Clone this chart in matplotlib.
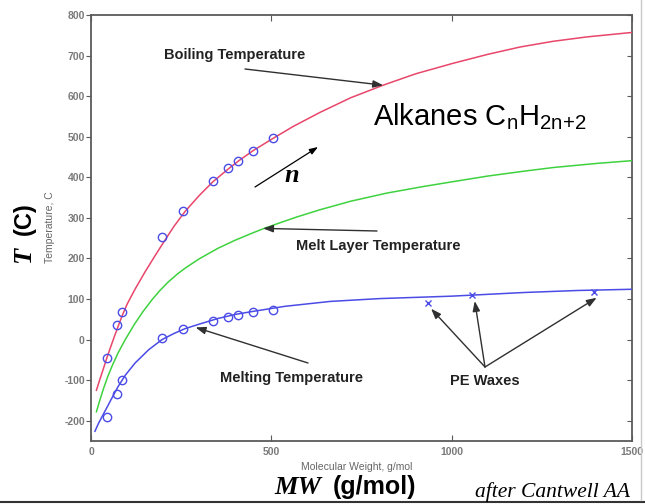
import matplotlib
matplotlib.use("Agg")
import matplotlib.pyplot as plt
from matplotlib.lines import Line2D

plt.rcParams['axes.unicode_minus'] = False

# ---- data ----
boil_curve_mw = [15, 25, 35, 44, 55, 65, 75, 86, 100, 122, 150, 175, 205, 230, 261, 300, 338, 380, 410, 450, 505, 560, 635, 720, 810, 900, 1004, 1100, 1189, 1280, 1375, 1500]
boil_curve_T = [-125, -97, -70, -45, -17, 8, 32, 58, 87, 124, 167, 203, 245, 279, 316, 355, 389, 420, 441, 466, 496, 525, 560, 596, 627, 655, 681, 703, 721, 735, 746, 757]

layer_curve_mw = [15, 25, 35, 47, 60, 75, 95, 122, 145, 169, 190, 213, 240, 261, 300, 352, 400, 446, 477, 518, 570, 635, 720, 820, 920, 1009, 1100, 1200, 1281, 1400, 1500]
layer_curve_T = [-178, -148, -120, -90, -62, -33, 0, 40, 70, 98, 120, 141, 162, 176, 199, 225, 245, 262, 273, 286, 302, 320, 341, 361, 377, 390, 403, 415, 424, 434, 441]

melt_curve_mw = [11, 20, 30, 39, 55, 75, 95, 122, 160, 197, 230, 261, 300, 352, 400, 446, 538, 663, 800, 1000, 1200, 1350, 1500]
melt_curve_T = [-226, -208, -191, -176, -149, -116, -88, -58, -25, 0, 15, 27, 38, 52, 62, 69, 82, 94, 101, 107, 116, 121, 124]

alk_mw = [44, 72, 86, 197, 254, 339, 380, 408, 450, 505]
alk_boil_T = [-45, 35, 67, 253, 317, 391, 422, 441, 466, 496]
alk_melt_T = [-191, -134, -99, 3, 25, 47, 55, 60, 67, 72]

wax_mw = [935, 1056, 1394]
wax_T = [90, 109, 117]

x_ticks = [0, 500, 1000, 1500]
y_ticks = [-200, -100, 0, 100, 200, 300, 400, 500, 600, 700, 800]

SANS = ['Liberation Sans', 'DejaVu Sans']
SERIF = ['Liberation Serif', 'DejaVu Serif']

W, H = 645, 504
fig = plt.figure(figsize=(W / 100, H / 100), dpi=100)
fig.patch.set_facecolor('white')
ax = fig.add_axes([91 / W, 1 - 441 / H, (632 - 91) / W, (441 - 15) / H])

red = '#e8466a'
green = '#3fd23f'
blue = '#4b4be6'

ax.plot(boil_curve_mw, boil_curve_T, color=red, lw=1.1, zorder=3)
ax.plot(layer_curve_mw, layer_curve_T, color=green, lw=1.1, zorder=3)
ax.plot(melt_curve_mw, melt_curve_T, color=blue, lw=1.1, zorder=3)

ax.plot(alk_mw, alk_boil_T, 'o', ms=6, mfc='none', mec=blue, mew=1.0, zorder=4)
ax.plot(alk_mw, alk_melt_T, 'o', ms=6, mfc='none', mec=blue, mew=1.0, zorder=4)
ax.plot(wax_mw, wax_T, 'x', ms=5, mec=blue, mew=1.0, zorder=4)

ax.set_xlim(0, 1500)
ax.set_ylim(-250, 800)
ax.set_xticks(x_ticks)
ax.set_yticks(y_ticks)
for s in ax.spines.values():
    s.set_color('#5a5a5a')
    s.set_linewidth(1.3)
ax.tick_params(axis='x', direction='in', top=True, bottom=True, length=4,
               color='#5a5a5a', labelsize=7.5, labelcolor='#7a7a7a', pad=4)
ax.tick_params(axis='y', which='major', left=True, right=True, direction='out',
               length=3.5, color='#5a5a5a', labelsize=7.5, labelcolor='#7a7a7a', pad=1)
for lab in ax.get_xticklabels() + ax.get_yticklabels():
    lab.set_fontfamily(SANS)
    lab.set_fontweight('bold')
# right-side ticks pointing inward
for t in ax.yaxis.get_major_ticks():
    t.tick2line.set_marker(matplotlib.markers.TICKLEFT)

# small original axis labels
fig.text(357 / W, 1 - 467 / H, 'Molecular Weight, g/mol', fontsize=7.5, color='#666666',
         family=SANS, ha='center', va='center')
fig.text(50 / W, 1 - 227 / H, 'Temperature, C', fontsize=7.5, color='#666666',
         family=SANS, ha='center', va='center', rotation=90)

# big axis labels
fig.text(24 / W, 1 - 255 / H, 'T', fontsize=19, fontweight='bold', fontstyle='italic',
         family=SERIF, ha='center', va='center', rotation=90)
fig.text(24 / W, 1 - 219 / H, '(C)', fontsize=17, fontweight='bold',
         family=SANS, ha='center', va='center', rotation=90)
fig.text(298 / W, 1 - 487 / H, 'MW', fontsize=19, fontweight='bold', fontstyle='italic',
         family=SERIF, ha='center', va='center')
fig.text(374 / W, 1 - 487 / H, '(g/mol)', fontsize=18, fontweight='bold',
         family=SANS, ha='center', va='center')
fig.text(475 / W, 1 - 497 / H, 'after Cantwell AA', fontsize=15.5, fontstyle='italic',
         family=SERIF, ha='left', va='baseline')

# title-like annotation
plt.rcParams['mathtext.fontset'] = 'custom'
plt.rcParams['mathtext.rm'] = 'Liberation Sans'
fig.text(373 / W, 1 - 125 / H, r'Alkanes C$_\mathregular{n}$H$_\mathregular{2n{+}2}$',
         fontsize=21, family=SANS, ha='left', va='baseline')

arrow_kw = dict(arrowstyle='-|>,head_length=0.6,head_width=0.22', color='#303030', lw=1.0,
                shrinkA=0, shrinkB=0)
label_kw = dict(fontsize=10.5, fontweight='bold', family=SANS, color='#222222')

def fp(x, y):
    return (x, H - y)

ax.annotate('', xy=(810, 627), xycoords='data', xytext=fp(245, 69),
            textcoords='figure pixels', arrowprops=arrow_kw)
fig.text(164 / W, 1 - 55 / H, 'Boiling Temperature', ha='left', va='center', **label_kw)

ax.annotate('', xy=(477, 274), xycoords='data', xytext=fp(377, 231),
            textcoords='figure pixels', arrowprops=arrow_kw)
fig.text(296 / W, 1 - 246 / H, 'Melt Layer Temperature', ha='left', va='center', **label_kw)

ax.annotate('', xy=(290, 30), xycoords='data', xytext=fp(308, 363),
            textcoords='figure pixels', arrowprops=arrow_kw)
fig.text(220 / W, 1 - 378 / H, 'Melting Temperature', ha='left', va='center', **label_kw)

for mw, t in zip(wax_mw, wax_T):
    ax.annotate('', xy=(mw + 8, t - 14), xycoords='data', xytext=fp(485, 367),
                textcoords='figure pixels', arrowprops=arrow_kw)
fig.text(450 / W, 1 - 381 / H, 'PE Waxes', ha='left', va='center', **label_kw)

# n arrow
ax.annotate('', xy=fp(318, 147), xycoords='figure pixels', xytext=fp(255, 187),
            textcoords='figure pixels',
            arrowprops=dict(arrowstyle='-|>,head_length=0.5,head_width=0.18', color='black',
                            lw=0.9, shrinkA=0, shrinkB=0))
fig.text(292 / W, 1 - 176 / H, 'n', fontsize=19, fontweight='bold', fontstyle='italic',
         family=SERIF, ha='center', va='center')

# frame lines of the slide
fig.add_artist(Line2D([0, 1], [1 - 502 / H, 1 - 502 / H], color='#333333', lw=1.5,
                      transform=fig.transFigure))
fig.add_artist(Line2D([641 / W, 641 / W], [1 - 500 / H, 1], color='#c8c8c8', lw=1.0,
                      transform=fig.transFigure))

fig.savefig('out.png', dpi=100)
